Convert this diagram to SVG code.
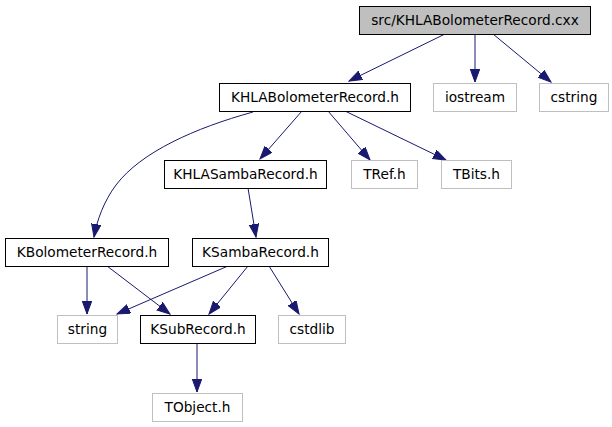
<svg xmlns="http://www.w3.org/2000/svg" width="612" height="427" viewBox="0 0 612 427">
<style>
text{font-family:"DejaVu Sans",sans-serif;font-size:13.7px;fill:#000;text-anchor:middle}
.n{fill:#fff;stroke:#000;stroke-width:1}
.g{fill:#fff;stroke:#bfbfbf;stroke-width:1}
.r{fill:#bfbfbf;stroke:#000;stroke-width:1}
.e path{fill:none;stroke:#191970;stroke-width:1;marker-end:url(#a)}
</style>
<defs>
<marker id="a" markerUnits="userSpaceOnUse" markerWidth="14" markerHeight="11" refX="13" refY="4.75" orient="auto">
<path d="M0,0 L13,4.75 L0,9.5 z" fill="#191970" stroke="#191970"/>
</marker>
</defs>
<rect width="612" height="427" fill="#fff"/>
<g class="e" id="edges">
<path d="M445,34 L349,81"/>
<path d="M475,34 L475,82"/>
<path d="M493,34 L551,82"/>
<path d="M253,112 C195,128 141,152 116,185 C104,201 97,220 94,237"/>
<path d="M302,111 L260,159"/>
<path d="M328,111 L370,160"/>
<path d="M345,111 L446,160"/>
<path d="M248,188 L256,237"/>
<path d="M87,266 L87,314"/>
<path d="M107,266 L170,314"/>
<path d="M228,266 L117,314"/>
<path d="M248,266 L209,314"/>
<path d="M269,266 L299,314"/>
<path d="M197,343 L197,392"/>
</g>
<g id="root"><rect class="r" x="359.5" y="6.5" width="231" height="28"/><text x="475" y="25">src/KHLABolometerRecord.cxx</text></g>
<g id="iostream"><rect class="g" x="433.5" y="83.5" width="83" height="28"/><text x="475" y="102">iostream</text></g>
<g id="cstring"><rect class="g" x="539.5" y="83.5" width="69" height="28"/><text x="574" y="102">cstring</text></g>
<g id="KHLABolometerRecord"><rect class="n" x="219.5" y="83.5" width="191" height="28"/><text x="315" y="102">KHLABolometerRecord.h</text></g>
<g id="KHLASambaRecord"><rect class="n" x="164.5" y="160.5" width="162" height="28"/><text x="245.5" y="179">KHLASambaRecord.h</text></g>
<g id="TRef"><rect class="g" x="351.5" y="160.5" width="66" height="28"/><text x="384.5" y="179">TRef.h</text></g>
<g id="TBits"><rect class="g" x="441.5" y="160.5" width="70" height="28"/><text x="476.5" y="179">TBits.h</text></g>
<g id="KBolometerRecord"><rect class="n" x="5.5" y="238.5" width="163" height="28"/><text x="87" y="257">KBolometerRecord.h</text></g>
<g id="KSambaRecord"><rect class="n" x="192.5" y="238.5" width="136" height="28"/><text x="260.5" y="257">KSambaRecord.h</text></g>
<g id="string"><rect class="g" x="57.5" y="315.5" width="60" height="28"/><text x="87.5" y="334">string</text></g>
<g id="KSubRecord"><rect class="n" x="140.5" y="315.5" width="115" height="28"/><text x="198" y="334">KSubRecord.h</text></g>
<g id="cstdlib"><rect class="g" x="278.5" y="315.5" width="67" height="28"/><text x="312" y="334">cstdlib</text></g>
<g id="TObject"><rect class="g" x="152.5" y="393.5" width="90" height="28"/><text x="197.5" y="412">TObject.h</text></g>
</svg>
